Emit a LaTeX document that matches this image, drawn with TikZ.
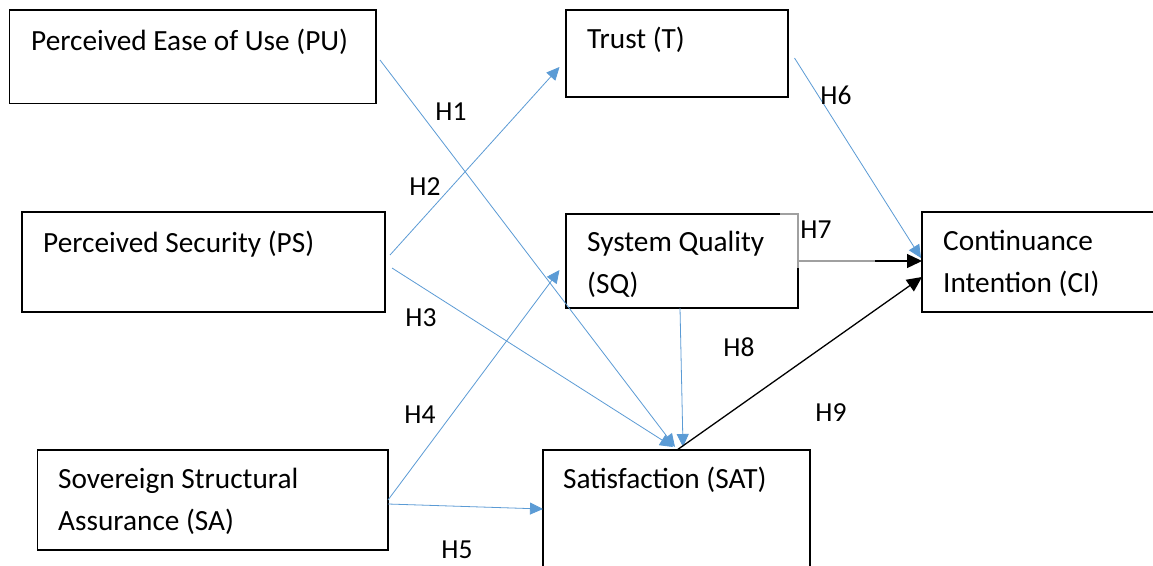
\documentclass[tikz,border=0pt]{standalone}
\usepackage{fontspec}
\setmainfont{Carlito}
\usetikzlibrary{arrows.meta,calc}
\definecolor{lineblue}{RGB}{91,155,213}
\definecolor{edgegray}{RGB}{160,160,160}
\tikzset{
  box/.style={draw=black, line width=1.3pt, inner sep=0pt, outer sep=0pt, anchor=north west},
  boxtext/.style={anchor=base west, inner sep=0pt, align=left, font=\fontsize{29.3}{41.5}\selectfont},
  hlabel/.style={inner sep=0pt, font=\fontsize{27.5}{30}\selectfont},
  bluearrow/.style={draw=lineblue, line width=0.8pt, -{Triangle[length=13pt,width=12pt]}},
  blackarrow/.style={draw=black, line width=1.3pt, -{Triangle[length=15pt,width=14pt]}},
  grayline/.style={draw=edgegray, line width=1.3pt}
}
\begin{document}
\begin{tikzpicture}[x=1pt,y=-1pt]
\fill[white] (0,0) rectangle (1153,565);
\useasboundingbox (0,0) rectangle (1153,565);

% boxes
\node[box, minimum width=366.5pt, minimum height=93.5pt] (pu) at (9.5,10) {};
\node[box, minimum width=222pt, minimum height=87pt] (t) at (566,10) {};
\node[box, minimum width=363pt, minimum height=100pt] (ps) at (22,212) {};
\node[box, minimum width=232pt, minimum height=94pt] (sq) at (566,214) {};
\node[box, minimum width=243pt, minimum height=100pt] (ci) at (922,212) {};
\node[box, minimum width=350.5pt, minimum height=100pt] (sa) at (37.5,450) {};
\node[box, minimum width=267pt, minimum height=150pt] (sat) at (543,450) {};

% gray part of the SQ border
\draw[grayline] ([xshift=-18pt]sq.north east) -- (sq.north east) -- ([yshift=-54pt]sq.north east);

% box texts (base = baseline of the last line)
\node[boxtext] (put) at (31,50) {Perceived Ease of Use (PU)};
\node[boxtext] (tt) at (587,48) {Trust (T)};
\node[boxtext] (pst) at (43,252) {Perceived Security (PS)};
\node[boxtext] (sqt) at (587,293) {System Quality\\(SQ)};
\node[boxtext] (cit) at (943,292) {Continuance\\Intention (CI)};
\node[boxtext] (sat1) at (58,530) {Sovereign Structural\\Assurance (SA)};
\node[boxtext] (satt) at (563,488) {Satisfaction (SAT)};

% connectors
\draw[bluearrow] ($(pu.east)+(4,3.25)$) -- ($(sat.north)+(-1.5,-3)$);
\draw[bluearrow] ($(ps.east)+(5,-7)$) -- ($(t.west)+(-6.5,13.5)$);
\draw[bluearrow] ($(ps.east)+(7,6)$) -- ($(sat.north)+(-3.5,-3)$);
\draw[bluearrow] (sa.east) -- ($(sq.west)+(-6.5,9)$);
\draw[bluearrow] ($(sa.east)+(0,4)$) -- ($(sat.west)+(0,-16)$);
\draw[bluearrow] ($(t.east)+(6.5,4.5)$) -- ($(ci.west)+(-1,-4)$);
\draw[grayline] (sq.east) -- ++(77,0) coordinate (h7m);
\draw[blackarrow] (h7m) -- (h7m -| ci.west);
\draw[bluearrow] ($(sq.south)+(-2,0)$) -- ($(sat.north)+(6.5,-3)$);
\draw[blackarrow] ($(sat.north)+(0.5,0)$) -- ($(ci.west)+(0,15)$);

% hypothesis labels
\node[hlabel] (h1) at (451,112) {H1};
\node[hlabel] (h2) at (425,187) {H2};
\node[hlabel] (h3) at (421,318) {H3};
\node[hlabel] (h4) at (420,415) {H4};
\node[hlabel] (h5) at (457,550) {H5};
\node[hlabel] (h6) at (836,95) {H6};
\node[hlabel] (h7) at (816,230) {H7};
\node[hlabel] (h8) at (739,347) {H8};
\node[hlabel] (h9) at (831,413) {H9};
\end{tikzpicture}
\end{document}
